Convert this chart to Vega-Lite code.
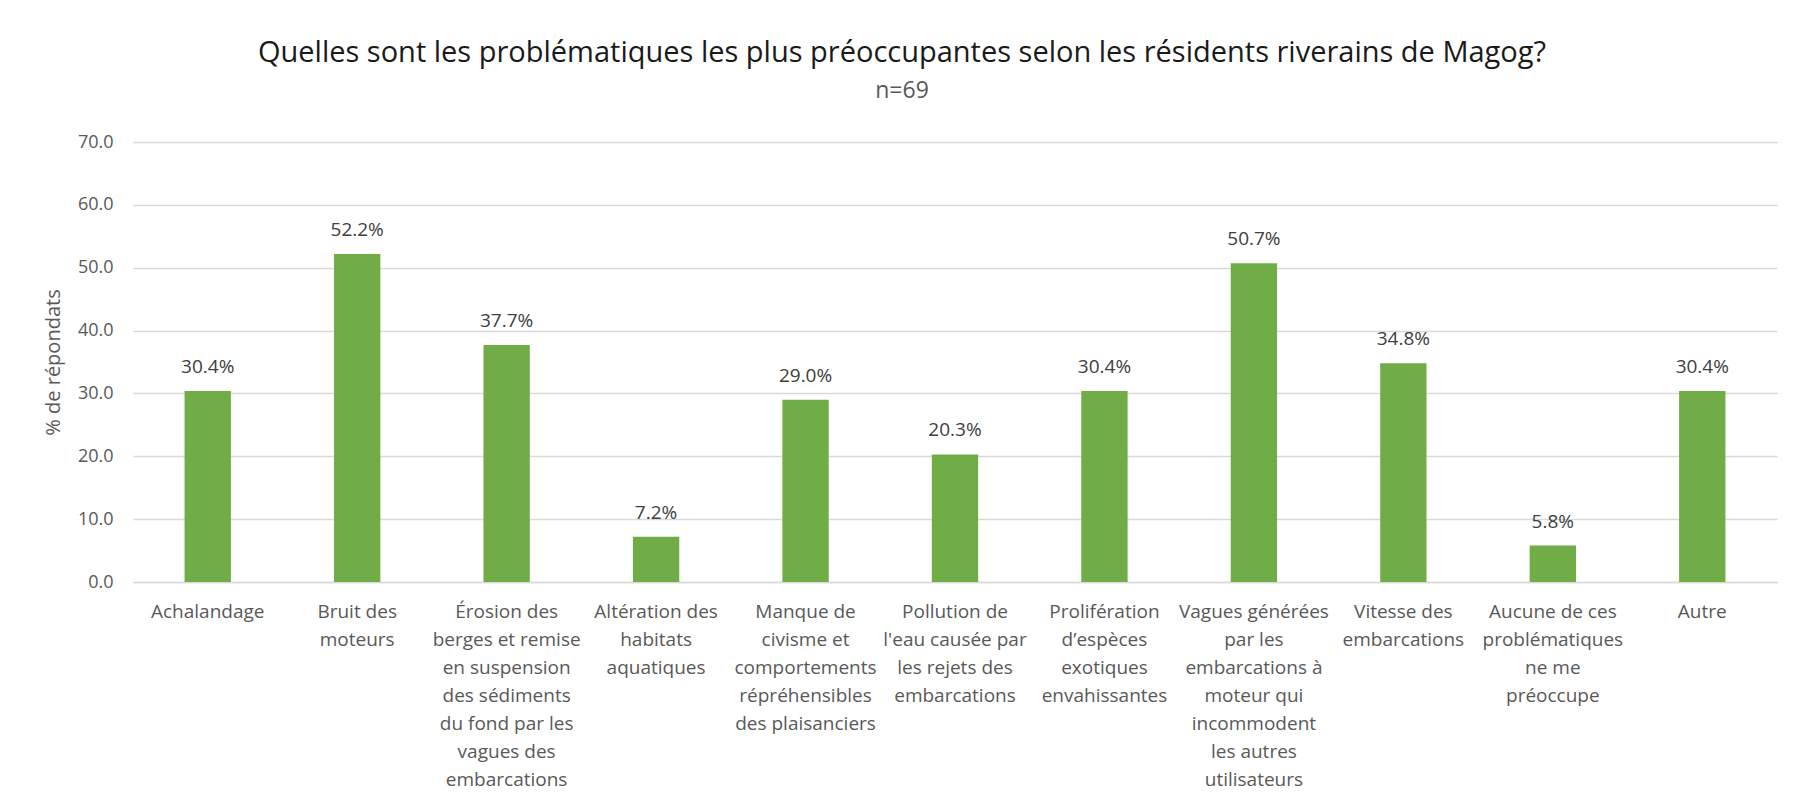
{
  "$schema": "https://vega.github.io/schema/vega-lite/v6.json",
  "autosize": "none",
  "width": 1644,
  "height": 440,
  "padding": {"left": 133, "top": 142, "right": 26, "bottom": 228},
  "background": "white",
  "title": {
    "text": "Quelles sont les problématiques les plus préoccupantes selon les résidents riverains de Magog?",
    "subtitle": "n=69",
    "anchor": "middle",
    "dx": -53,
    "font": "Open Sans",
    "fontSize": 29,
    "fontWeight": "normal",
    "color": "#1a1a1a",
    "subtitleFont": "Open Sans",
    "subtitleFontSize": 23,
    "subtitleColor": "#595959",
    "subtitlePadding": 12,
    "offset": 30
  },
  "data": {
    "values": [
      {"cat": "Achalandage", "pct": 30.4},
      {"cat": "Bruit des|moteurs", "pct": 52.2},
      {"cat": "Érosion des|berges et remise|en suspension|des sédiments|du fond par les|vagues des|embarcations", "pct": 37.7},
      {"cat": "Altération des|habitats|aquatiques", "pct": 7.2},
      {"cat": "Manque de|civisme et|comportements|répréhensibles|des plaisanciers", "pct": 29.0},
      {"cat": "Pollution de|l'eau causée par|les rejets des|embarcations", "pct": 20.3},
      {"cat": "Prolifération|d’espèces|exotiques|envahissantes", "pct": 30.4},
      {"cat": "Vagues générées|par les|embarcations à|moteur qui|incommodent|les autres|utilisateurs", "pct": 50.7},
      {"cat": "Vitesse des|embarcations", "pct": 34.8},
      {"cat": "Aucune de ces|problématiques|ne me|préoccupe", "pct": 5.8},
      {"cat": "Autre", "pct": 30.4}
    ]
  },
  "transform": [
    {"calculate": "format(datum.pct, '.1f') + '%'", "as": "lbl"}
  ],
  "encoding": {
    "x": {
      "field": "cat",
      "type": "nominal",
      "sort": null,
      "scale": {"paddingInner": 0, "paddingOuter": 0},
      "axis": {
        "title": null,
        "labelAngle": 0,
        "labelExpr": "split(datum.label, '|')",
        "labelFont": "Open Sans",
        "labelFontSize": 19,
        "labelColor": "#595959",
        "labelLineHeight": 28,
        "labelBaseline": "top",
        "labelPadding": 20,
        "labelLimit": 0,
        "ticks": false,
        "domainColor": "#d9d9d9",
        "domainWidth": 1.5
      }
    },
    "y": {
      "field": "pct",
      "type": "quantitative",
      "scale": {"domain": [0, 70], "nice": false},
      "axis": {
        "title": "% de répondats",
        "titleFont": "Open Sans",
        "titleFontSize": 20,
        "titleFontWeight": "normal",
        "titleColor": "#595959",
        "titlePadding": 14,
        "values": [0, 10, 20, 30, 40, 50, 60, 70],
        "format": ".1f",
        "labelFont": "Open Sans",
        "labelFontSize": 18,
        "labelColor": "#595959",
        "labelPadding": 20,
        "ticks": false,
        "domain": false,
        "gridColor": "#d9d9d9",
        "gridWidth": 1.5
      }
    }
  },
  "layer": [
    {
      "mark": {"type": "bar", "color": "#70ad47", "width": {"band": 0.31}}
    },
    {
      "mark": {
        "type": "text",
        "font": "Open Sans",
        "fontSize": 19,
        "color": "#404040",
        "baseline": "alphabetic",
        "dy": -18
      },
      "encoding": {"text": {"field": "lbl"}}
    }
  ],
  "config": {"view": {"stroke": null}}
}
